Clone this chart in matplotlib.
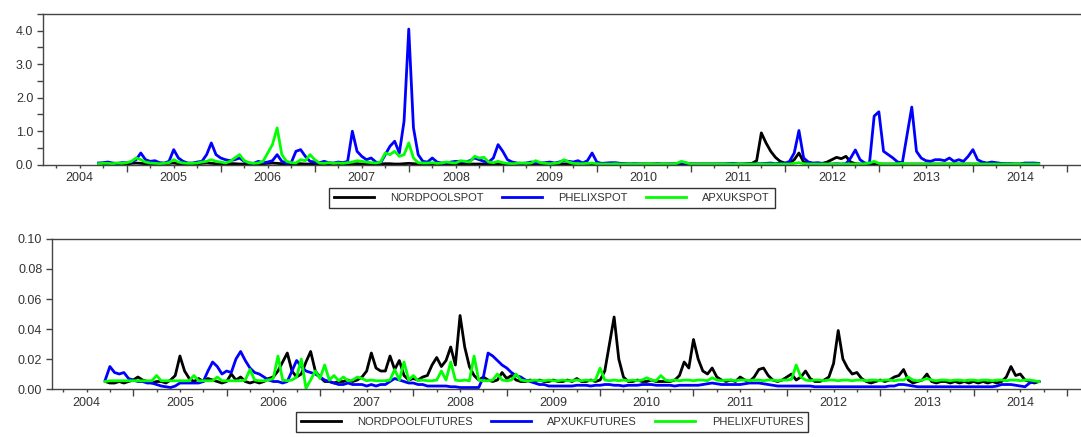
import numpy as np
import matplotlib
matplotlib.use("Agg")
import matplotlib.pyplot as plt
from matplotlib.ticker import FixedLocator, FuncFormatter, MultipleLocator

plt.rcParams['font.family'] = ['Liberation Sans', 'DejaVu Sans']

# observation dates (decimal years), one value every 0.05 year
dates = 2004.70 + 0.05 * np.arange(201)

# ---- top panel: spot series ----
nordpool_spot = (
    [0.02, 0.02, 0.03, 0.02, 0.02, 0.03, 0.02, 0.04, 0.05, 0.04, 0.03, 0.02, 0.02, 0.02, 0.03, 0.04, 0.05, 0.03, 0.02, 0.02]
    + [0.02, 0.03, 0.04, 0.05, 0.04, 0.03, 0.02, 0.02, 0.03, 0.03, 0.02, 0.02, 0.02, 0.02, 0.02, 0.03, 0.04, 0.05, 0.04, 0.03]
    + [0.02, 0.02, 0.03, 0.03, 0.02, 0.02, 0.03, 0.02, 0.02, 0.02, 0.02, 0.03, 0.02, 0.02, 0.03, 0.03, 0.02, 0.02, 0.02, 0.02]
    + [0.02, 0.03, 0.03, 0.02, 0.02, 0.03, 0.04, 0.03, 0.02, 0.02, 0.02, 0.02, 0.02, 0.02, 0.02, 0.02, 0.02, 0.02, 0.02, 0.02]
    + [0.02, 0.02, 0.02, 0.03, 0.02, 0.03, 0.02, 0.02, 0.02, 0.02, 0.02, 0.02, 0.02, 0.02, 0.02, 0.02, 0.02, 0.02, 0.02, 0.02]
    + [0.02, 0.02, 0.02, 0.02, 0.02, 0.02, 0.02, 0.02, 0.02, 0.02, 0.02, 0.02, 0.02, 0.02, 0.02, 0.02, 0.02, 0.02, 0.02, 0.02]
    + [0.02, 0.02, 0.02, 0.03, 0.02, 0.02, 0.02, 0.02, 0.02, 0.02, 0.02, 0.02, 0.02, 0.02, 0.02, 0.02, 0.02, 0.02, 0.03, 0.04]
    + [0.12, 0.95, 0.65, 0.40, 0.22, 0.10, 0.05, 0.04, 0.15, 0.35, 0.08, 0.04, 0.03, 0.03, 0.04, 0.08, 0.15, 0.22, 0.18, 0.25]
    + [0.08, 0.03, 0.02, 0.02, 0.02, 0.03, 0.02, 0.02, 0.02, 0.02, 0.02, 0.02, 0.02, 0.02, 0.02, 0.02, 0.02, 0.02, 0.02, 0.02]
    + [0.02, 0.02, 0.02, 0.02, 0.02, 0.02, 0.02, 0.02, 0.02, 0.02, 0.02, 0.02, 0.02, 0.02, 0.02, 0.02, 0.02, 0.02, 0.02, 0.02]
    + [0.02]
)
phelix_spot = (
    [0.05, 0.06, 0.08, 0.05, 0.04, 0.06, 0.06, 0.08, 0.15, 0.35, 0.15, 0.10, 0.12, 0.06, 0.05, 0.10, 0.45, 0.20, 0.10, 0.05]
    + [0.05, 0.08, 0.10, 0.30, 0.65, 0.30, 0.20, 0.15, 0.12, 0.15, 0.20, 0.10, 0.05, 0.04, 0.10, 0.06, 0.08, 0.12, 0.30, 0.10]
    + [0.05, 0.06, 0.40, 0.45, 0.25, 0.10, 0.08, 0.06, 0.10, 0.06, 0.05, 0.08, 0.06, 0.10, 1.00, 0.40, 0.25, 0.15, 0.20, 0.08]
    + [0.05, 0.30, 0.55, 0.70, 0.35, 1.30, 4.05, 1.10, 0.30, 0.10, 0.08, 0.20, 0.08, 0.05, 0.05, 0.08, 0.10, 0.10, 0.08, 0.12]
    + [0.20, 0.15, 0.10, 0.08, 0.20, 0.60, 0.40, 0.15, 0.08, 0.05, 0.04, 0.05, 0.08, 0.06, 0.05, 0.06, 0.08, 0.05, 0.08, 0.12]
    + [0.10, 0.08, 0.12, 0.05, 0.12, 0.35, 0.08, 0.04, 0.05, 0.06, 0.06, 0.04, 0.03, 0.02, 0.03, 0.02, 0.02, 0.02, 0.02, 0.03]
    + [0.02, 0.02, 0.02, 0.03, 0.05, 0.05, 0.02, 0.02, 0.02, 0.02, 0.02, 0.02, 0.02, 0.02, 0.03, 0.04, 0.02, 0.02, 0.02, 0.02]
    + [0.03, 0.03, 0.04, 0.05, 0.03, 0.05, 0.04, 0.10, 0.35, 1.02, 0.20, 0.08, 0.05, 0.06, 0.04, 0.02, 0.02, 0.03, 0.02, 0.03]
    + [0.20, 0.44, 0.15, 0.05, 0.04, 1.45, 1.58, 0.40, 0.30, 0.20, 0.08, 0.06, 0.90, 1.72, 0.40, 0.20, 0.12, 0.10, 0.15, 0.15]
    + [0.12, 0.20, 0.10, 0.15, 0.10, 0.25, 0.45, 0.15, 0.08, 0.05, 0.08, 0.06, 0.04, 0.03, 0.03, 0.02, 0.02, 0.05, 0.05, 0.05]
    + [0.04]
)
apxuk_spot = (
    [0.03, 0.04, 0.04, 0.03, 0.05, 0.04, 0.06, 0.10, 0.20, 0.15, 0.08, 0.05, 0.04, 0.03, 0.04, 0.06, 0.15, 0.08, 0.05, 0.04]
    + [0.04, 0.05, 0.08, 0.10, 0.15, 0.10, 0.08, 0.05, 0.10, 0.20, 0.30, 0.12, 0.06, 0.04, 0.05, 0.10, 0.35, 0.60, 1.10, 0.30]
    + [0.10, 0.06, 0.05, 0.15, 0.12, 0.30, 0.15, 0.05, 0.04, 0.06, 0.04, 0.05, 0.04, 0.06, 0.08, 0.12, 0.10, 0.08, 0.06, 0.05]
    + [0.08, 0.35, 0.30, 0.40, 0.25, 0.30, 0.65, 0.20, 0.06, 0.05, 0.05, 0.06, 0.04, 0.05, 0.08, 0.06, 0.05, 0.12, 0.10, 0.08]
    + [0.25, 0.20, 0.22, 0.08, 0.06, 0.10, 0.06, 0.04, 0.03, 0.04, 0.05, 0.04, 0.05, 0.12, 0.06, 0.04, 0.03, 0.04, 0.06, 0.15]
    + [0.08, 0.04, 0.03, 0.03, 0.04, 0.05, 0.03, 0.02, 0.02, 0.02, 0.03, 0.02, 0.02, 0.02, 0.02, 0.02, 0.02, 0.03, 0.02, 0.02]
    + [0.03, 0.02, 0.02, 0.04, 0.10, 0.06, 0.02, 0.02, 0.02, 0.02, 0.02, 0.02, 0.02, 0.02, 0.02, 0.02, 0.02, 0.02, 0.02, 0.02]
    + [0.02, 0.02, 0.02, 0.02, 0.02, 0.02, 0.02, 0.02, 0.04, 0.06, 0.03, 0.02, 0.02, 0.02, 0.02, 0.02, 0.02, 0.02, 0.02, 0.02]
    + [0.02, 0.02, 0.02, 0.03, 0.05, 0.10, 0.04, 0.02, 0.02, 0.02, 0.03, 0.04, 0.02, 0.02, 0.02, 0.02, 0.02, 0.02, 0.02, 0.02]
    + [0.02, 0.02, 0.02, 0.02, 0.02, 0.02, 0.02, 0.02, 0.02, 0.02, 0.02, 0.02, 0.02, 0.02, 0.02, 0.02, 0.02, 0.02, 0.02, 0.02]
    + [0.02]
)

# ---- bottom panel: futures series ----
nordpool_fut = (
    [0.005, 0.004, 0.004, 0.005, 0.004, 0.005, 0.006, 0.008, 0.006, 0.005, 0.004, 0.005, 0.005, 0.004, 0.006, 0.009, 0.022, 0.012, 0.007, 0.005]
    + [0.007, 0.005, 0.007, 0.006, 0.005, 0.004, 0.005, 0.010, 0.006, 0.008, 0.005, 0.004, 0.005, 0.004, 0.005, 0.007, 0.008, 0.012, 0.018, 0.024]
    + [0.012, 0.008, 0.010, 0.018, 0.025, 0.012, 0.008, 0.005, 0.005, 0.004, 0.005, 0.005, 0.006, 0.005, 0.006, 0.008, 0.012, 0.024, 0.014, 0.012]
    + [0.012, 0.022, 0.013, 0.019, 0.009, 0.006, 0.007, 0.006, 0.008, 0.009, 0.016, 0.021, 0.015, 0.019, 0.028, 0.016, 0.049, 0.028, 0.015, 0.009]
    + [0.006, 0.008, 0.006, 0.005, 0.006, 0.011, 0.007, 0.009, 0.006, 0.005, 0.005, 0.006, 0.005, 0.006, 0.005, 0.005, 0.006, 0.005, 0.005, 0.006]
    + [0.005, 0.007, 0.005, 0.005, 0.006, 0.005, 0.006, 0.012, 0.030, 0.048, 0.020, 0.008, 0.005, 0.005, 0.006, 0.005, 0.005, 0.006, 0.005, 0.005]
    + [0.005, 0.005, 0.006, 0.009, 0.018, 0.014, 0.033, 0.020, 0.012, 0.010, 0.014, 0.008, 0.006, 0.005, 0.006, 0.005, 0.008, 0.006, 0.005, 0.008]
    + [0.013, 0.014, 0.009, 0.006, 0.005, 0.006, 0.008, 0.010, 0.006, 0.008, 0.012, 0.007, 0.005, 0.005, 0.006, 0.008, 0.017, 0.039, 0.020, 0.014]
    + [0.010, 0.011, 0.007, 0.005, 0.004, 0.005, 0.006, 0.005, 0.006, 0.008, 0.009, 0.013, 0.006, 0.004, 0.005, 0.006, 0.010, 0.005, 0.004, 0.005]
    + [0.005, 0.004, 0.005, 0.004, 0.005, 0.004, 0.005, 0.004, 0.005, 0.004, 0.005, 0.004, 0.005, 0.008, 0.015, 0.009, 0.010, 0.006, 0.005, 0.004]
    + [0.005]
)
apxuk_fut = (
    [0.006, 0.015, 0.011, 0.010, 0.011, 0.007, 0.006, 0.005, 0.005, 0.004, 0.004, 0.003, 0.002, 0.0015, 0.001, 0.002, 0.004, 0.004, 0.004, 0.004]
    + [0.004, 0.005, 0.012, 0.018, 0.015, 0.010, 0.012, 0.011, 0.020, 0.025, 0.019, 0.014, 0.011, 0.010, 0.008, 0.006, 0.005, 0.005, 0.004, 0.005]
    + [0.012, 0.019, 0.015, 0.012, 0.011, 0.010, 0.008, 0.006, 0.005, 0.004, 0.003, 0.003, 0.004, 0.003, 0.003, 0.003, 0.002, 0.003, 0.002, 0.003]
    + [0.003, 0.005, 0.007, 0.006, 0.005, 0.004, 0.004, 0.003, 0.003, 0.002, 0.002, 0.002, 0.002, 0.002, 0.0015, 0.0015, 0.001, 0.001, 0.001, 0.001]
    + [0.001, 0.008, 0.024, 0.022, 0.019, 0.016, 0.014, 0.011, 0.009, 0.008, 0.006, 0.005, 0.004, 0.003, 0.003, 0.002, 0.002, 0.002, 0.002, 0.002]
    + [0.002, 0.0025, 0.0025, 0.0025, 0.002, 0.0025, 0.0025, 0.003, 0.003, 0.0025, 0.0025, 0.002, 0.0025, 0.0025, 0.0025, 0.003, 0.003, 0.003, 0.0025, 0.0025]
    + [0.0025, 0.0025, 0.002, 0.0025, 0.0025, 0.0025, 0.0025, 0.0025, 0.003, 0.0035, 0.004, 0.0035, 0.003, 0.003, 0.003, 0.003, 0.003, 0.0035, 0.004, 0.004]
    + [0.004, 0.0035, 0.003, 0.0025, 0.002, 0.002, 0.002, 0.002, 0.002, 0.002, 0.002, 0.002, 0.0015, 0.0015, 0.0015, 0.0015, 0.0015, 0.0015, 0.0015, 0.0015]
    + [0.0015, 0.0015, 0.0015, 0.0015, 0.0015, 0.0015, 0.0015, 0.0015, 0.002, 0.002, 0.003, 0.003, 0.0025, 0.002, 0.0015, 0.0015, 0.0015, 0.0015, 0.0015, 0.0015]
    + [0.0015, 0.0015, 0.0015, 0.0015, 0.0015, 0.0015, 0.0015, 0.0015, 0.0015, 0.0015, 0.0015, 0.002, 0.003, 0.003, 0.003, 0.0025, 0.002, 0.0015, 0.004, 0.005]
    + [0.005]
)
phelix_fut = (
    [0.005, 0.0055, 0.0055, 0.0055, 0.0055, 0.0055, 0.0055, 0.0055, 0.0055, 0.0055, 0.0055, 0.009, 0.0055, 0.0055, 0.0055, 0.0055, 0.0055, 0.0055, 0.0055, 0.009]
    + [0.0055, 0.0055, 0.0055, 0.0055, 0.008, 0.0055, 0.0055, 0.0055, 0.0055, 0.0055, 0.006, 0.013, 0.006, 0.0055, 0.0055, 0.006, 0.007, 0.022, 0.006, 0.0055]
    + [0.006, 0.008, 0.020, 0.0005, 0.006, 0.012, 0.007, 0.016, 0.006, 0.009, 0.0055, 0.008, 0.0055, 0.006, 0.008, 0.007, 0.0055, 0.006, 0.0055, 0.0055]
    + [0.0055, 0.006, 0.013, 0.006, 0.018, 0.006, 0.009, 0.0055, 0.006, 0.0055, 0.0055, 0.006, 0.012, 0.006, 0.018, 0.006, 0.0055, 0.006, 0.0055, 0.022]
    + [0.006, 0.0055, 0.0055, 0.006, 0.010, 0.006, 0.0055, 0.006, 0.010, 0.006, 0.0055, 0.0055, 0.006, 0.0055, 0.0055, 0.006, 0.0055, 0.0055, 0.006, 0.0055]
    + [0.0055, 0.006, 0.0055, 0.006, 0.0055, 0.006, 0.014, 0.006, 0.0055, 0.006, 0.0055, 0.006, 0.0055, 0.006, 0.0055, 0.006, 0.0075, 0.006, 0.0055, 0.009]
    + [0.006, 0.0055, 0.006, 0.0055, 0.006, 0.006, 0.0055, 0.006, 0.006, 0.0055, 0.0075, 0.006, 0.0055, 0.006, 0.006, 0.0055, 0.006, 0.006, 0.0055, 0.006]
    + [0.006, 0.0055, 0.006, 0.006, 0.0055, 0.006, 0.006, 0.0065, 0.016, 0.008, 0.006, 0.0055, 0.006, 0.006, 0.0055, 0.006, 0.006, 0.0055, 0.006, 0.006]
    + [0.0055, 0.006, 0.006, 0.0055, 0.006, 0.006, 0.0055, 0.006, 0.006, 0.0055, 0.006, 0.006, 0.008, 0.006, 0.0055, 0.006, 0.007, 0.006, 0.0055, 0.006]
    + [0.006, 0.0055, 0.006, 0.006, 0.0055, 0.006, 0.006, 0.0055, 0.006, 0.006, 0.0055, 0.006, 0.006, 0.0055, 0.006, 0.006, 0.0055, 0.006, 0.006, 0.0055]
    + [0.005]
)

spot_labels = ['NORDPOOLSPOT', 'PHELIXSPOT', 'APXUKSPOT']
fut_labels = ['NORDPOOLFUTURES', 'APXUKFUTURES', 'PHELIXFUTURES']
colors = ['#000000', '#0000ff', '#00ff00']

axis_col = '#444444'
text_col = '#333333'

fig = plt.figure(figsize=(10.81, 4.37), dpi=100)
ax1 = fig.add_axes([0.0398, 0.6231, 0.9602, 0.3449])
ax2 = fig.add_axes([0.0481, 0.1098, 0.9519, 0.3433])


def year_label(v, pos):
    if abs(v - np.floor(v) - 0.5) < 1e-6:
        return str(int(np.floor(v)))
    return ''


def style(ax, x0, ymax, ystep, fmt, yminor=None):
    ax.set_xlim(x0, 2015.15)
    ax.set_ylim(0, ymax)
    ax.spines['right'].set_visible(False)
    for s in ['left', 'bottom', 'top']:
        ax.spines[s].set_color(axis_col)
        ax.spines[s].set_linewidth(1.0)
    ax.xaxis.set_major_locator(MultipleLocator(1))
    ax.xaxis.set_major_formatter(FuncFormatter(lambda v, p: ''))
    ax.xaxis.set_minor_locator(FixedLocator(np.arange(2004, 2016, 0.25)))
    ax.xaxis.set_minor_formatter(FuncFormatter(year_label))
    ax.tick_params(axis='x', which='major', length=5, width=1.0, color=axis_col)
    ax.tick_params(axis='x', which='minor', length=2.5, width=1.0, color=axis_col,
                   labelsize=9, labelcolor=text_col, pad=3)
    ax.yaxis.set_major_locator(MultipleLocator(ystep))
    ax.yaxis.set_major_formatter(FuncFormatter(lambda v, p: fmt % v))
    if yminor:
        ax.yaxis.set_minor_locator(MultipleLocator(yminor))
    ax.tick_params(axis='y', which='both', length=4, width=1.0, color=axis_col,
                   labelsize=9, labelcolor=text_col, pad=3)


style(ax1, 2004.11, 4.5, 1.0, '%.1f', 0.5)
style(ax2, 2004.13, 0.10, 0.02, '%.2f')

for vals, lab, c in zip([nordpool_spot, phelix_spot, apxuk_spot], spot_labels, colors):
    ax1.plot(dates, vals, color=c, lw=2.0, label=lab, clip_on=False)
for vals, lab, c in zip([nordpool_fut, apxuk_fut, phelix_fut], fut_labels, colors):
    ax2.plot(dates, vals, color=c, lw=2.0, label=lab)

for ax, ytop in [(ax1, 0.5698), (ax2, 0.0572)]:
    leg = fig.legend(*ax.get_legend_handles_labels(), loc='upper center',
                     bbox_to_anchor=(0.5106, ytop), ncol=3, fontsize=8,
                     frameon=True, fancybox=False, edgecolor='#000000',
                     handlelength=3.6, handletextpad=1.5, columnspacing=1.6,
                     borderpad=0.45, borderaxespad=0)
    leg.get_frame().set_linewidth(1.0)
    for t in leg.get_texts():
        t.set_color(text_col)

fig.savefig('out.png', dpi=100)
